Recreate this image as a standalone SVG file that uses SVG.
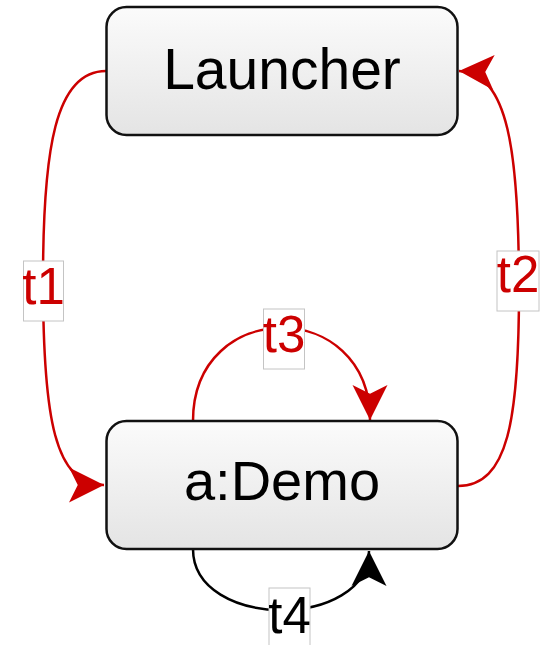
<svg xmlns="http://www.w3.org/2000/svg" width="541" height="645" viewBox="0 0 541 645">
  <defs>
    <linearGradient id="boxGrad" x1="0" y1="0" x2="0" y2="1">
      <stop offset="0" stop-color="#fbfbfb"/>
      <stop offset="1" stop-color="#e4e4e4"/>
    </linearGradient>
    <marker id="arrRed" markerUnits="userSpaceOnUse" markerWidth="40" markerHeight="40" refX="0" refY="0" viewBox="-30 -16 32 32" orient="auto">
      <path d="M0,0 L-28,-14 L-21,0 L-28,14 Z" fill="#cc0000"/>
    </marker>
    <marker id="arrBlack" markerUnits="userSpaceOnUse" markerWidth="40" markerHeight="40" refX="0" refY="0" viewBox="-30 -16 32 32" orient="auto">
      <path d="M0,0 L-28,-14 L-21,0 L-28,14 Z" fill="#000000"/>
    </marker>
  </defs>
  <style>
    .node rect { fill: url(#boxGrad); stroke: #111; stroke-width: 2.5; }
    .node text { font-family: "Liberation Sans", Arial, sans-serif; fill: #000; text-anchor: middle; }
    .edge { fill: none; stroke-width: 2.5; }
    .red { stroke: #cc0000; }
    .black { stroke: #000; }
    .lbl rect { fill: #fff; stroke: #c4c4c4; stroke-width: 1; }
    .lbl text { font-family: "Liberation Sans", Arial, sans-serif; font-size: 51px; text-anchor: middle; }
  </style>
  <rect width="541" height="645" fill="#fff"/>

  <g id="connectors">
    <path class="edge red" d="M106,71 C55,71 43,150 43,280 C43,420 55,485 104,485" marker-end="url(#arrRed)"/>
    <path class="edge red" d="M458,486 C508,486 519,420 519,290 C519,150 508,73 459,71" marker-end="url(#arrRed)"/>
    <path class="edge red" d="M193,421 C193,297 370,297 370,420" marker-end="url(#arrRed)"/>
    <path class="edge black" d="M193,549 C193,630 369,630 369,551" marker-end="url(#arrBlack)"/>
    <g class="lbl" id="label-t1">
      <rect x="23.5" y="261" width="40" height="60"/>
      <text x="43.5" y="304" fill="#cc0000">t1</text>
    </g>
    <g class="lbl" id="label-t2">
      <rect x="497" y="251" width="42" height="60"/>
      <text x="518" y="292" fill="#cc0000">t2</text>
    </g>
    <g class="lbl" id="label-t3">
      <rect x="263.5" y="309" width="41" height="60"/>
      <text x="284" y="352" fill="#cc0000">t3</text>
    </g>
    <g class="lbl" id="label-t4">
      <rect x="269" y="588" width="41" height="60"/>
      <text x="289.5" y="633" fill="#000">t4</text>
    </g>
  </g>

  <g id="node-launcher" class="node">
    <rect x="106.5" y="7" width="351" height="128" rx="20" ry="20"/>
    <text x="282" y="89" font-size="57">Launcher</text>
  </g>

  <g id="node-demo" class="node">
    <rect x="106.5" y="421" width="351" height="128" rx="20" ry="20"/>
    <text x="282" y="500" font-size="56">a:Demo</text>
  </g>
</svg>
